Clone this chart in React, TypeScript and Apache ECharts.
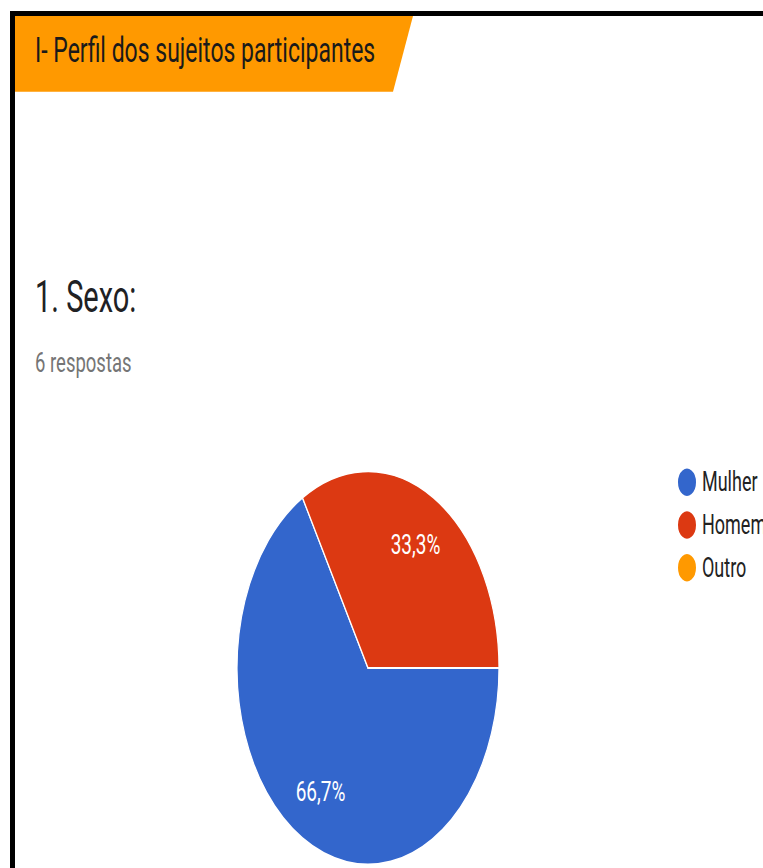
import React, { useEffect, useRef } from "react";
import * as echarts from "echarts";

const sectionTitle = "I- Perfil dos sujeitos participantes";
const questionTitle = "1. Sexo:";
const responsesText = "6 respostas";
const categories = ["Mulher", "Homem", "Outro"];
const counts = [4, 2, 0];
const colors = ["#3366cc", "#dc3912", "#ff9900"];

const SY = 1.5; // vertical stretch of the reference picture
const W = 763;
const H = 868 / SY;

export default function App() {
  const ref = useRef<HTMLDivElement>(null);
  useEffect(() => {
    if (!ref.current) return;
    const chart = echarts.init(ref.current, null, { renderer: "svg" });
    const total = counts.reduce((a, b) => a + b, 0);
    const data = categories.map((name, i) => ({
      name,
      value: counts[i],
      itemStyle: { color: colors[i] },
    }));
    const fmt = (p: any) =>
      p.value > 0 ? ((p.value / total) * 100).toFixed(1).replace(".", ",") + "%" : "";
    const center = [368, 445.3];
    chart.setOption({
      animation: false,
      backgroundColor: "#ffffff",
      textStyle: { fontFamily: "Roboto" },
      graphic: [
        { type: "rect", shape: { x: 10, y: 7.3, width: W - 10, height: 3.4 }, style: { fill: "#000" } },
        { type: "rect", shape: { x: 10, y: 7.3, width: 5, height: H }, style: { fill: "#000" } },
        {
          type: "polygon",
          shape: { points: [[15, 10.7], [413, 10.7], [393, 61.2], [15, 61.2]] },
          style: { fill: "#ff9900" },
        },
        {
          type: "text",
          x: 35,
          y: 33.5,
          style: { text: sectionTitle, fill: "#1a1a1a", font: "23px Roboto", textVerticalAlign: "middle" },
        },
        {
          type: "text",
          x: 35,
          y: 198,
          style: { text: questionTitle, fill: "#202124", font: "29px Roboto", textVerticalAlign: "middle" },
        },
        {
          type: "text",
          x: 35,
          y: 241.5,
          style: { text: responsesText, fill: "#757575", font: "18.5px Roboto", textVerticalAlign: "middle" },
        },
      ],
      legend: {
        orient: "vertical",
        left: 671,
        top: 305.5,
        icon: "circle",
        itemWidth: 20,
        itemHeight: 20,
        itemGap: 6.5,
        data: categories,
        textStyle: { fontSize: 18, color: "#222", fontFamily: "Roboto" },
      },
      series: [
        {
          type: "pie",
          center,
          radius: [0, 131],
          startAngle: 0,
          clockwise: true,
          data,
          label: { show: false },
          labelLine: { show: false },
          itemStyle: { borderColor: "#ffffff", borderWidth: 1.2 },
          emphasis: { disabled: true },
        },
        {
          type: "pie",
          center,
          radius: [0, 184],
          startAngle: 0,
          clockwise: true,
          silent: true,
          data: data.map((d) => ({ ...d, itemStyle: { color: "transparent" } })),
          label: {
            show: true,
            position: "inside",
            color: "#ffffff",
            fontSize: 19,
            fontFamily: "Roboto",
            formatter: fmt,
          },
          labelLine: { show: false },
          itemStyle: { borderWidth: 0 },
          emphasis: { disabled: true },
          z: 5,
        },
      ],
    });
    return () => chart.dispose();
  }, []);
  return (
    <div
      style={{
        position: "absolute",
        left: 0,
        top: 0,
        width: W,
        height: H,
        transform: `scaleY(${SY})`,
        transformOrigin: "0 0",
      }}
    >
      <div ref={ref} style={{ width: W, height: H }} />
    </div>
  );
}
